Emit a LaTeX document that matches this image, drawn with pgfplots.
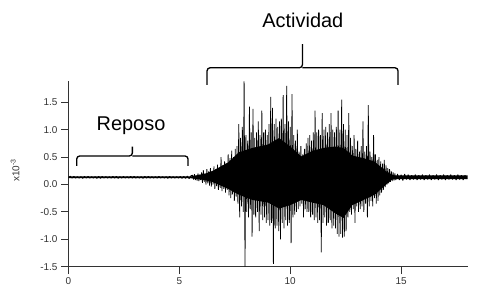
\documentclass[border=0pt]{standalone}
\usepackage{pgfplots}
\pgfplotsset{compat=1.18}
\usepackage{fontspec}
\setmainfont{Liberation Sans}
\begin{document}
\begin{tikzpicture}
\begin{axis}[
  scale only axis,
  width=399bp, height=185.7bp,
  xmin=0, xmax=18, ymin=-1.5, ymax=1.89,
  axis x line=bottom, axis y line=left,
  axis line style={line width=0.8bp, black!80, -},
  tick align=outside,
  major tick length=7.5bp,
  tick style={line width=0.8bp, black!80},
  xtick={0,5,10,15}, xticklabels={0,5,10,15},
  ytick={-1.5,-1,-0.5,0,0.5,1,1.5},
  yticklabels={-1.5,-1.0,-0.5,0.0,0.5,1.0,1.5},
  tick label style={font=\fontsize{10}{12}\selectfont, text=black!80},
  clip=false,
]
\path (axis cs:-3.09,-2.071) rectangle (axis cs:19.01,3.367);
% dense core of the signal (envelope)
\addplot[fill=black, draw=none] table {
x y
0.00 0.148
5.50 0.146
5.80 0.169
6.20 0.201
6.50 0.248
7.20 0.403
7.70 0.590
8.30 0.668
9.00 0.730
9.50 0.848
10.00 0.692
10.50 0.512
11.00 0.614
11.50 0.668
12.00 0.692
12.40 0.668
12.80 0.528
13.30 0.481
13.80 0.419
14.30 0.247
14.60 0.169
14.80 0.165
18.00 0.165
18.00 0.100
14.80 0.100
14.60 0.091
14.30 -0.010
13.80 -0.190
13.30 -0.283
12.80 -0.377
12.40 -0.611
12.00 -0.517
11.50 -0.377
11.00 -0.330
10.50 -0.283
10.00 -0.377
9.50 -0.440
9.00 -0.330
8.30 -0.283
7.70 -0.190
7.20 -0.080
6.50 0.045
6.20 0.076
5.80 0.099
5.50 0.114
0.00 0.114
} -- cycle;
\addplot[black, line width=0.75bp, line join=bevel] table {
x y
0.00 0.13
0.08 0.15
0.16 0.115
0.24 0.15
0.32 0.115
0.40 0.145
0.48 0.115
0.56 0.145
0.64 0.11
0.72 0.15
0.80 0.115
0.88 0.15
0.96 0.115
1.04 0.145
1.12 0.115
1.20 0.145
1.28 0.11
1.36 0.15
1.44 0.11
1.52 0.15
1.60 0.115
1.68 0.145
1.76 0.115
1.84 0.145
1.92 0.115
2.00 0.15
2.08 0.115
2.16 0.15
2.24 0.11
2.32 0.145
2.40 0.115
2.48 0.15
2.56 0.115
2.64 0.145
2.72 0.115
2.80 0.15
2.88 0.115
2.96 0.15
3.04 0.115
3.12 0.145
3.20 0.115
3.28 0.145
3.36 0.11
3.44 0.15
3.52 0.115
3.60 0.15
3.68 0.115
3.76 0.145
3.84 0.115
3.92 0.145
4.00 0.115
4.08 0.15
4.16 0.115
4.24 0.145
4.32 0.115
4.40 0.145
4.48 0.11
4.56 0.15
4.64 0.115
4.72 0.145
4.80 0.115
4.88 0.145
4.96 0.115
5.04 0.15
5.12 0.11
5.20 0.15
5.28 0.11
5.36 0.155
5.44 0.105
5.52 0.16
5.60 0.17
5.64 0.09
5.68 0.19
5.72 0.08
5.76 0.16
5.80 0.07
5.84 0.20
5.88 0.06
5.92 0.18
5.96 0.08
6.00 0.22
6.04 0.03
6.08 0.26
6.12 0.05
6.16 0.20
6.20 0.00
6.24 0.28
6.28 0.02
6.32 0.24
6.36 -0.02
6.40 0.30
6.44 -0.04
6.48 0.25
6.52 0.00
6.56 0.33
6.60 -0.08
6.64 0.28
6.68 -0.03
6.72 0.36
6.76 -0.10
6.80 0.30
6.84 -0.06
6.88 0.50
6.92 -0.12
6.96 0.35
7.00 -0.08
7.04 0.42
7.08 -0.15
7.12 0.38
7.16 -0.10
7.20 0.55
7.24 -0.20
7.28 0.48
7.32 -0.25
7.36 0.62
7.40 -0.18
7.44 0.50
7.48 -0.30
7.52 0.65
7.56 -0.22
7.60 0.70
7.64 -0.35
7.68 1.10
7.72 -0.60
7.76 0.85
7.80 -0.40
7.84 1.05
7.88 -0.50
7.92 1.88
7.96 -1.50
8.00 0.90
8.04 -0.50
8.08 0.80
8.12 -0.60
8.16 1.42
8.20 -0.45
8.24 0.95
8.28 -0.95
8.32 1.38
8.36 -0.55
8.40 0.85
8.44 -0.60
8.48 0.95
8.52 -0.50
8.56 1.15
8.60 -0.85
8.64 0.90
8.68 -0.55
8.72 1.35
8.76 -0.65
8.80 0.95
8.84 -0.60
8.88 1.00
8.92 -0.70
8.96 0.90
9.00 -0.65
9.04 1.10
9.08 -0.75
9.12 1.60
9.16 -0.70
9.20 1.40
9.24 -1.45
9.28 1.10
9.32 -0.80
9.36 1.20
9.40 -0.75
9.44 1.05
9.48 -0.85
9.52 1.15
9.56 -1.00
9.60 1.20
9.64 -0.70
9.68 1.63
9.72 -0.80
9.76 1.10
9.80 -0.65
9.84 1.80
9.88 -0.75
9.92 1.15
9.96 -0.70
10.00 1.05
10.04 -1.07
10.08 1.65
10.12 -0.60
10.16 0.90
10.20 -0.55
10.24 0.80
10.28 -0.50
10.32 1.00
10.36 -0.45
10.40 0.60
10.44 -0.40
10.48 0.70
10.52 -0.35
10.56 0.55
10.60 -0.60
10.64 0.65
10.68 -0.45
10.72 0.75
10.76 -0.50
10.80 0.85
10.84 -0.50
10.88 0.90
10.92 -0.60
10.96 0.80
11.00 -0.55
11.04 0.95
11.08 -0.65
11.12 1.35
11.16 -0.60
11.20 0.95
11.24 -0.70
11.28 1.00
11.32 -0.65
11.36 0.90
11.40 -1.24
11.44 1.30
11.48 -0.70
11.52 1.00
11.56 -0.60
11.60 1.05
11.64 -0.75
11.68 0.95
11.72 -0.70
11.76 1.10
11.80 -0.65
11.84 1.30
11.88 -0.80
11.92 1.00
11.96 -0.75
12.00 0.95
12.04 -0.80
12.08 1.05
12.12 -0.90
12.16 1.35
12.20 -0.95
12.24 1.00
12.28 -0.90
12.32 1.55
12.36 -0.97
12.40 1.10
12.44 -0.95
12.48 1.00
12.52 -0.85
12.56 0.90
12.60 -0.60
12.64 1.30
12.68 -0.50
12.72 0.85
12.76 -0.55
12.80 0.70
12.84 -0.45
12.88 0.90
12.92 -0.70
12.96 0.65
13.00 -0.40
13.04 0.80
13.08 -0.50
13.12 0.60
13.16 -0.45
13.20 0.70
13.24 -0.40
13.28 1.15
13.32 -0.50
13.36 0.60
13.40 -0.35
13.44 0.70
13.48 -0.60
13.52 1.45
13.56 -0.40
13.60 0.60
13.64 -0.30
13.68 0.50
13.72 -0.40
13.76 0.90
13.80 -0.25
13.84 0.55
13.88 -0.35
13.92 0.45
13.96 -0.30
14.00 0.50
14.04 -0.20
14.08 0.42
14.12 -0.15
14.16 0.38
14.20 -0.10
14.24 0.45
14.28 -0.05
14.32 0.35
14.36 0.00
14.40 0.30
14.44 0.02
14.48 0.28
14.52 0.05
14.56 0.24
14.60 0.06
14.64 0.22
14.68 0.07
14.72 0.20
14.76 0.08
14.84 0.19
14.92 0.08
15.00 0.18
15.08 0.07
15.16 0.19
15.24 0.09
15.32 0.18
15.40 0.08
15.48 0.17
15.56 0.09
15.64 0.18
15.72 0.08
15.80 0.17
15.88 0.09
15.96 0.18
16.04 0.08
16.12 0.17
16.20 0.09
16.28 0.18
16.36 0.08
16.44 0.17
16.52 0.09
16.60 0.18
16.68 0.08
16.76 0.17
16.84 0.09
16.92 0.18
17.00 0.08
17.08 0.17
17.16 0.09
17.24 0.18
17.32 0.09
17.40 0.17
17.48 0.08
17.56 0.18
17.64 0.09
17.72 0.17
17.80 0.08
17.88 0.17
17.96 0.10
};
% Reposo brace
\draw[line width=1.3bp, rounded corners=3bp] (axis cs:0.37,0.34) -- (axis cs:0.37,0.52) -- (axis cs:2.88,0.52) -- (axis cs:2.88,0.69);
\draw[line width=1.3bp, rounded corners=3bp] (axis cs:5.39,0.34) -- (axis cs:5.39,0.52) -- (axis cs:2.88,0.52);
\node[font=\fontsize{20}{24}\selectfont] at (axis cs:2.82,1.07) {Reposo};
% Actividad brace
\draw[line width=1.3bp, rounded corners=3bp] (axis cs:6.25,1.82) -- (axis cs:6.25,2.13) -- (axis cs:10.55,2.13) -- (axis cs:10.55,2.56);
\draw[line width=1.3bp, rounded corners=3bp] (axis cs:14.86,1.82) -- (axis cs:14.86,2.13) -- (axis cs:10.55,2.13);
\node[font=\fontsize{20}{24}\selectfont] at (axis cs:10.57,3.0) {Actividad};
% y label
\node[rotate=90, font=\fontsize{10}{12}\selectfont, text=black!80] at (axis cs:-2.41,0.26) {x10\textsuperscript{-3}};
\end{axis}
\end{tikzpicture}
\end{document}
